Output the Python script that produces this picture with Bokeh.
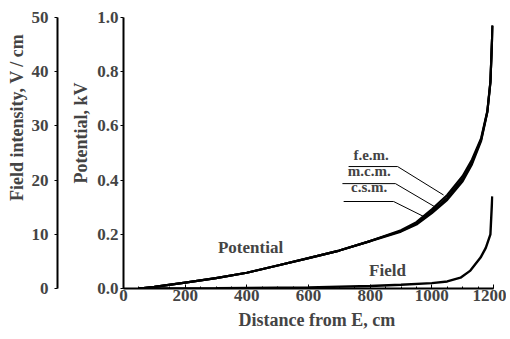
from bokeh.plotting import figure
from bokeh.models import (Range1d, LinearAxis, FixedTicker, Label, ColumnDataSource,
                          Segment, CustomJSTickFormatter, Title)
from bokeh.embed import file_html
from bokeh.resources import INLINE

# ---- data ----
x_pot = [50, 100, 200, 300, 400, 500, 600, 700, 800, 900, 950, 1000, 1050, 1100, 1130, 1160, 1180, 1190, 1197]
pot_fem = [0, 0.006, 0.022, 0.038, 0.058, 0.085, 0.112, 0.14, 0.175, 0.215, 0.245, 0.292, 0.345, 0.415, 0.475, 0.555, 0.655, 0.765, 0.97]
pot_mcm = [0, 0.006, 0.022, 0.038, 0.058, 0.085, 0.112, 0.14, 0.175, 0.212, 0.240, 0.284, 0.335, 0.404, 0.466, 0.55, 0.652, 0.762, 0.97]
pot_csm = [0, 0.006, 0.022, 0.038, 0.058, 0.085, 0.112, 0.14, 0.175, 0.210, 0.236, 0.278, 0.327, 0.396, 0.458, 0.545, 0.65, 0.76, 0.97]

x_field = [50, 300, 600, 800, 900, 1000, 1050, 1093, 1125, 1158, 1175, 1190, 1196]
field = [0, 0.05, 0.2, 0.45, 0.7, 1.0, 1.3, 2.0, 3.3, 5.7, 7.5, 10, 17]

x_ticks = [0, 200, 400, 600, 800, 1000, 1200]
pot_ticks = [0.0, 0.2, 0.4, 0.6, 0.8, 1.0]
field_ticks = [0, 10, 20, 30, 40, 50]

method_labels = ["f.e.m.", "m.c.m.", "c.s.m."]

SERIF = "Liberation Serif"
TICK_FS = "17px"
TITLE_FS = "18px"

p = figure(width=506, height=335, output_backend="svg", toolbar_location=None,
           x_range=Range1d(0, 1200), y_range=Range1d(0, 1.0),
           min_border_left=123, min_border_right=13, min_border_top=17, min_border_bottom=47)
p.outline_line_color = None
p.grid.visible = False
p.background_fill_color = "white"
p.extra_y_ranges = {"field": Range1d(0, 50)}

# x axis
xa = p.xaxis[0]
xa.ticker = FixedTicker(ticks=x_ticks, minor_ticks=list(range(0, 1201, 50)))
xa.major_label_text_font = SERIF
xa.major_label_text_font_style = "bold"
xa.major_label_text_font_size = TICK_FS
xa.major_label_standoff = 1
xa.major_tick_in = 4
xa.major_tick_out = 0
xa.minor_tick_in = 2
xa.minor_tick_out = 0
xa.axis_line_width = 2

# potential axis
ya = p.yaxis[0]
ya.ticker = FixedTicker(ticks=pot_ticks, minor_ticks=[])
ya.formatter = CustomJSTickFormatter(code="return tick.toFixed(1);")
ya.major_label_text_font = SERIF
ya.major_label_text_font_style = "bold"
ya.major_label_text_font_size = TICK_FS
ya.major_label_standoff = 2
ya.major_tick_out = 3
ya.major_tick_in = 0
ya.minor_tick_out = 0
ya.minor_tick_in = 0
ya.axis_line_width = 2

# title of the potential axis
p.add_layout(Title(text="Potential, kV", align="right", offset=65, standoff=7,
                   text_font=SERIF, text_font_style="bold", text_font_size=TITLE_FS), "left")

# invisible spacer axis between the two vertical axes
sp = LinearAxis(y_range_name="field", ticker=FixedTicker(ticks=[25], minor_ticks=[]),
                axis_line_color=None, major_tick_out=8, major_tick_in=0,
                major_tick_line_color="white", minor_tick_line_color=None,
                major_label_overrides={25: ""}, major_label_standoff=0,
                major_label_text_color=None)
p.add_layout(sp, "left")

# field axis
fa = LinearAxis(y_range_name="field", ticker=FixedTicker(ticks=field_ticks, minor_ticks=[]))
fa.major_label_text_font = SERIF
fa.major_label_text_font_style = "bold"
fa.major_label_text_font_size = TICK_FS
fa.major_label_standoff = 6
fa.major_tick_out = 3
fa.major_tick_in = 0
fa.minor_tick_out = 0
fa.minor_tick_in = 0
fa.axis_line_width = 2
p.add_layout(fa, "left")

p.add_layout(Title(text="Field intensity, V / cm", align="right", offset=16, standoff=3,
                   text_font=SERIF, text_font_style="bold", text_font_size=TITLE_FS), "left")

p.add_layout(Title(text="Distance from E, cm", align="left", offset=115, standoff=8,
                   text_font=SERIF, text_font_style="bold", text_font_size=TITLE_FS), "below")

# curves
p.line(x_pot, pot_csm, line_color="black", line_width=2.2)
p.line(x_pot, pot_mcm, line_color="black", line_width=2.2)
p.line(x_pot, pot_fem, line_color="black", line_width=2.2)
p.line(x_field, field, y_range_name="field", line_color="black", line_width=2.4)

# in-plot labels
p.add_layout(Label(x=412, y=0.151, text="Potential", text_align="center", text_baseline="middle",
                   text_font=SERIF, text_font_style="bold", text_font_size="17px"))
p.add_layout(Label(x=856, y=0.066, text="Field", text_align="center", text_baseline="middle",
                   text_font=SERIF, text_font_style="bold", text_font_size="17px"))

# method call-outs (underline + leader)
lab_x = [803, 797, 797]
lab_y = [0.462, 0.404, 0.345]
ul_x0 = [730, 710, 714]
ul_x1 = [889, 882, 876]
ul_y = [0.450, 0.387, 0.321]
end_x = [1038, 1012, 980]
end_y = [0.345, 0.300, 0.262]
for t, lx, ly in zip(method_labels, lab_x, lab_y):
    p.add_layout(Label(x=lx, y=ly, text=t, text_align="center", text_baseline="bottom",
                       text_font=SERIF, text_font_style="bold", text_font_size="15px"))
src = ColumnDataSource(dict(x0=ul_x0 + ul_x1, y0=ul_y + ul_y, x1=ul_x1 + end_x, y1=ul_y + end_y))
p.add_glyph(src, Segment(x0="x0", y0="y0", x1="x1", y1="y1", line_color="black", line_width=1))

open("out.html", "w").write(file_html(p, INLINE))
